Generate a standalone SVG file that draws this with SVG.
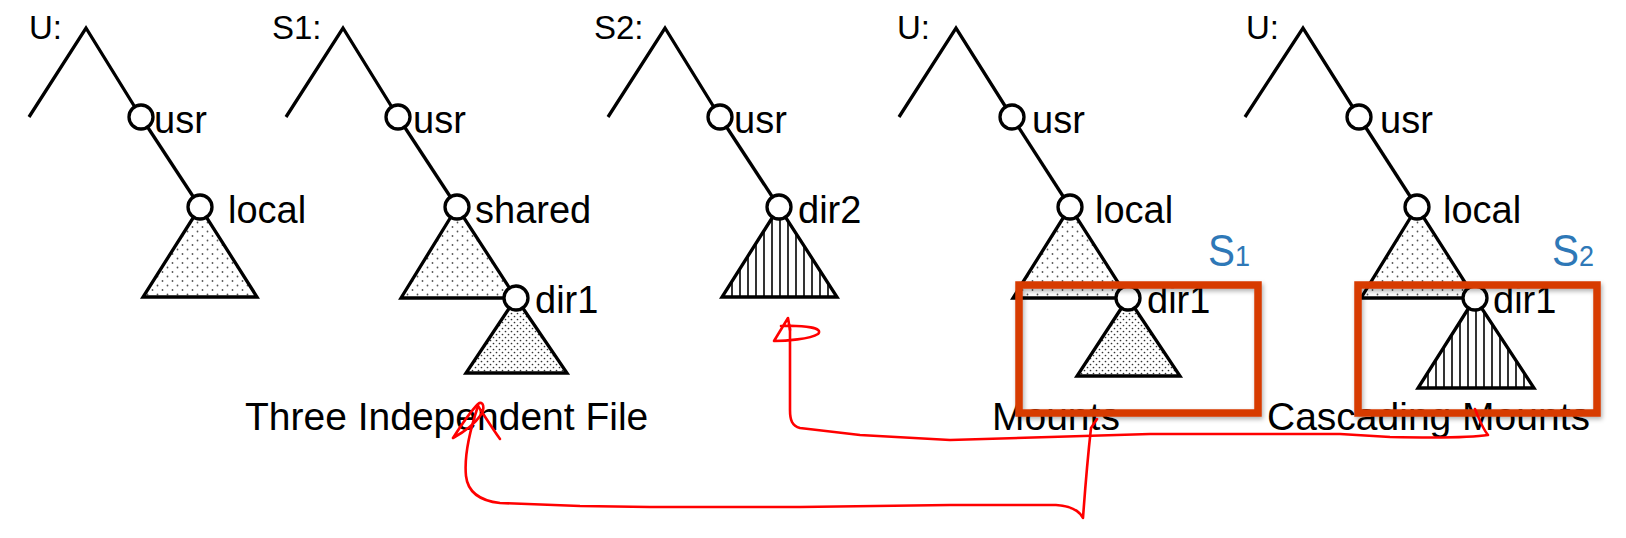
<svg xmlns="http://www.w3.org/2000/svg" width="1626" height="538" viewBox="0 0 1626 538">
<style>
.ln{fill:none;stroke:#000;stroke-width:3.3;stroke-linejoin:miter}
.tri{stroke:#000;stroke-width:3.3;stroke-linejoin:miter}
.nd{fill:#fff;stroke:#000;stroke-width:3.3}
.lb{font-family:"Liberation Sans",Arial,sans-serif;font-size:38px;fill:#000}
.rt{font-family:"Liberation Sans",Arial,sans-serif;font-size:33px;fill:#000}
.cap{font-family:"Liberation Sans",Arial,sans-serif;font-size:39px;fill:#000}
.sl{font-family:"Liberation Sans",Arial,sans-serif;font-size:45px;fill:#2E78B7}
.box{fill:none;stroke:#D73B02;stroke-width:7.5;filter:url(#sh)}
.red{fill:none;stroke:#FF0000;stroke-width:2.6;stroke-linecap:round;stroke-linejoin:round}
</style>
<defs>
<pattern id="dots" patternUnits="userSpaceOnUse" width="10" height="9">
<rect width="10" height="9" fill="#fff"/>
<circle cx="2.5" cy="2" r="0.9" fill="#555"/>
<circle cx="7.5" cy="6.5" r="0.9" fill="#555"/>
</pattern>
<pattern id="dense" patternUnits="userSpaceOnUse" width="6" height="6">
<rect width="6" height="6" fill="#fff"/>
<circle cx="1.5" cy="1.5" r="0.85" fill="#333"/>
<circle cx="4.5" cy="4.5" r="0.85" fill="#333"/>
</pattern>
<pattern id="vl" patternUnits="userSpaceOnUse" width="8" height="8">
<rect width="8" height="8" fill="#fff"/>
<line x1="4" y1="0" x2="4" y2="8" stroke="#000" stroke-width="1.6"/>
</pattern>
<filter id="sh" x="-10%" y="-10%" width="120%" height="130%">
<feDropShadow dx="1.5" dy="2.5" stdDeviation="2" flood-color="#000" flood-opacity="0.3"/>
</filter>
</defs>
<rect width="1626" height="538" fill="#fff"/>

<!-- Tree 1: U -->
<g id="tree-u1">
<text class="rt" x="29" y="39">U:</text>
<polygon class="tri" fill="url(#dots)" points="200,207 143,297 257,297"/>
<g class="edges"><polyline class="ln" points="29,117 86,28 141,117"/><line class="ln" x1="141" y1="117" x2="200" y2="207"/></g>
<g id="u1-usr"><circle class="nd" cx="141" cy="117" r="12"/><text class="lb" x="154" y="133">usr</text></g>
<g id="u1-local"><circle class="nd" cx="200" cy="207" r="12"/><text class="lb" x="228" y="223">local</text></g>
</g>

<!-- Tree 2: S1 -->
<g id="tree-s1">
<text class="rt" x="272" y="39">S1:</text>
<polygon class="tri" fill="url(#dots)" points="457,207 401,298 516,298"/>
<polygon class="tri" fill="url(#dense)" points="516,298 466,373 567,373"/>
<g class="edges"><polyline class="ln" points="286,117 343,28 398,117"/><line class="ln" x1="398" y1="117" x2="457" y2="207"/></g>
<g id="s1-usr"><circle class="nd" cx="398" cy="117" r="12"/><text class="lb" x="413" y="133">usr</text></g>
<g id="s1-shared"><circle class="nd" cx="457" cy="207" r="12"/><text class="lb" x="475" y="223">shared</text></g>
<g id="s1-dir1"><circle class="nd" cx="516" cy="298" r="12"/><text class="lb" x="535" y="313">dir1</text></g>
</g>

<!-- Tree 3: S2 -->
<g id="tree-s2">
<text class="rt" x="594" y="39">S2:</text>
<polygon class="tri" fill="url(#vl)" points="779,207 722,297 837,297"/>
<g class="edges"><polyline class="ln" points="608,117 665,28 720,117"/><line class="ln" x1="720" y1="117" x2="779" y2="207"/></g>
<g id="s2-usr"><circle class="nd" cx="720" cy="117" r="12"/><text class="lb" x="734" y="133">usr</text></g>
<g id="s2-dir2"><circle class="nd" cx="779" cy="207" r="12"/><text class="lb" x="798" y="223">dir2</text></g>
</g>
<text class="cap" x="245" y="430">Three Independent File</text>

<!-- Tree 4: Mounts -->
<g id="tree-mounts">
<text class="rt" x="897" y="39">U:</text>
<polygon class="tri" fill="url(#dots)" points="1070,207 1013,298 1128,298"/>
<polygon class="tri" fill="url(#dense)" points="1128,298 1077,376 1180,376"/>
<g class="edges"><polyline class="ln" points="899,117 956,28 1012,117"/><line class="ln" x1="1012" y1="117" x2="1070" y2="207"/></g>
<g id="m-usr"><circle class="nd" cx="1012" cy="117" r="12"/><text class="lb" x="1032" y="133">usr</text></g>
<g id="m-local"><circle class="nd" cx="1070" cy="207" r="12"/><text class="lb" x="1095" y="223">local</text></g>
<g id="m-dir1"><circle class="nd" cx="1128" cy="298" r="12"/><text class="lb" x="1147" y="313">dir1</text></g>
<text class="sl" x="1208" y="266" textLength="42" lengthAdjust="spacingAndGlyphs">S<tspan font-size="30">1</tspan></text>
<text class="cap" x="992" y="430">Mounts</text>
<rect class="box" x="1019" y="285" width="239" height="128"/>
</g>

<!-- Tree 5: Cascading Mounts -->
<g id="tree-cascading">
<text class="rt" x="1246" y="39">U:</text>
<polygon class="tri" fill="url(#dots)" points="1417,207 1361,298 1475,298"/>
<polygon class="tri" fill="url(#vl)" points="1475,298 1418,388 1534,388"/>
<g class="edges"><polyline class="ln" points="1245,117 1303,28 1359,117"/><line class="ln" x1="1359" y1="117" x2="1417" y2="207"/></g>
<g id="c-usr"><circle class="nd" cx="1359" cy="117" r="12"/><text class="lb" x="1380" y="133">usr</text></g>
<g id="c-local"><circle class="nd" cx="1417" cy="207" r="12"/><text class="lb" x="1443" y="223">local</text></g>
<g id="c-dir1"><circle class="nd" cx="1475" cy="298" r="12"/><text class="lb" x="1493" y="313">dir1</text></g>
<text class="sl" x="1552" y="266" textLength="42" lengthAdjust="spacingAndGlyphs">S<tspan font-size="30">2</tspan></text>
<text class="cap" x="1267" y="430">Cascading Mounts</text>
<rect class="box" x="1358" y="285" width="239" height="128"/>
</g>

<!-- Red hand-drawn connectors -->
<g id="connectors">
<path class="red" d="M1097 419 L1091 428 C1088 455 1085 490 1083 518 C1079 510 1071 506 1056 505 L950 505 L800 507 L650 507 L580 506 L500 503 C482 501 468 494 466 476 C464 456 470 430 478 406"/>
<path class="red" d="M453 438 C462 424 472 410 478 404 C483 400 486 408 480 416 C474 425 462 433 453 438 M478 406 C486 418 492 428 500 439"/>
<path class="red" d="M1475 409 C1479 418 1482 428 1488 435 C1470 438 1440 438 1390 437 L1340 434 L1150 434 L1050 437 L950 440 L860 435 L800 428 C792 426 790 420 790 410 L790 328"/>
<path class="red" d="M788 318 L774 341 C786 341 810 339 818 334 C824 328 805 325 781 326 M788 318 L790 330"/>
</g>
</svg>
